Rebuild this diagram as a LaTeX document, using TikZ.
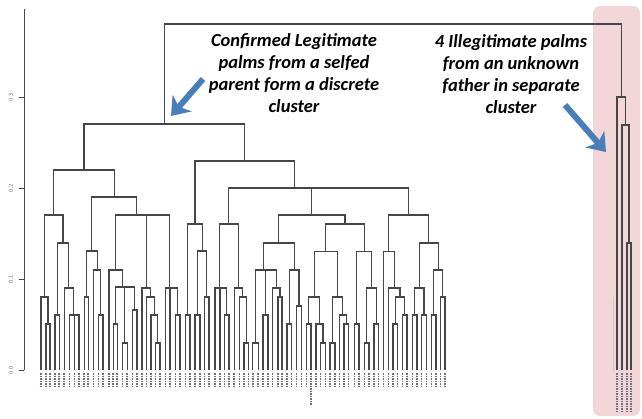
\documentclass[tikz,border=0pt]{standalone}
\usepackage{fontspec}
\setmainfont{Carlito}
\usetikzlibrary{arrows.meta}
\definecolor{clusterpink}{RGB}{242,214,216}
\definecolor{arrowblue}{RGB}{74,126,187}
\definecolor{treegray}{RGB}{70,70,70}
\definecolor{labelgray}{RGB}{110,108,128}
\tikzset{
  link/.style={treegray,line width=1.15pt},
  callout/.style={align=center,font=\fontsize{18.5}{21.8}\selectfont\bfseries\itshape},
  pointer/.style={arrowblue,line width=6pt,-{Stealth[length=17pt,width=25pt,inset=5pt]}},
  ticklabel/.style={black!55,rotate=90,font=\sffamily\fontsize{6}{7}\selectfont},
  leaflabel/.style={labelgray,line width=1.8pt,dash pattern=on 1.6pt off 0.9pt}
}
\begin{document}
\begin{tikzpicture}[x=1pt,y=-1pt]
  \useasboundingbox (0,0) rectangle (642,418);
  % shaded separate cluster
  \fill[clusterpink,rounded corners=7pt] (593,6) rectangle (640,416);
  % height axis
  \draw[treegray,line width=0.9pt] (24,370) -- (24,9);
  \foreach \yy/\lab [count=\i] in {370/0.0,279/0.1,188/0.2,97/0.3} {
    \draw[treegray,line width=0.9pt] (18.5,\yy) -- (24,\yy);
    \node[ticklabel] (tick\i) at (11,\yy) {\lab};
  }
  % leaf labels
  \foreach \x in {41,46,50,55,59.3,64.3,69.5,74.5,79,84.3,88.3,93.5,98.5,103,109,113.3,117.3,122.5,127.3,132.5,
    137,142,146.5,151,155.5,160,165.5,170,175.5,180,185.5,190,195,200,204.5,209,215,220,224.5,229,
    234.3,239.5,244,248.5,252.7,258.3,263,268,272.5,278,282,287,291.5,296.5,301.5,306.5,316,320.5,325.5,
    330,335,339.5,344,348.5,354.5,359,364.5,369,374,378.5,383.5,388.5,393,397.5,402.5,407,412.5,417,421.5,
    426.5,431.5,436,440.5,445}
    \draw[leaflabel] (\x,373) -- (\x,386);
  \draw[leaflabel] (311,373) -- (311,405);
  \foreach \x in {617,622,627,631}
    \draw[leaflabel] (\x,373) -- (\x,411);
  \draw[gray!40,line width=0.4pt] (613,297) -- (613,372);
  % merges: left x / left bottom / right x / right bottom / height
  \foreach \xa/\ya/\xb/\yb/\h in {
    46/370/50/370/324, 41/370/48/324/297, 55/370/59.3/370/315, 74.5/370/79/370/315,
    69.5/370/76.75/315/315, 64.3/370/73.13/315/288, 57.15/315/68.71/288/243, 44.5/297/62.93/243/215,
    84.3/370/88.3/370/297, 98.5/370/103/370/315, 93.5/370/100.75/315/270, 86.3/297/97.13/270/251,
    113.3/370/117.3/370/324, 122.5/370/127.3/370/343, 132.5/370/137/370/310, 124.9/343/134.75/310/287,
    115.3/324/129.83/287/287, 109/370/122.56/287/270,
    155.5/370/160/370/343, 151/370/157.75/343/315, 146.5/370/154.38/315/297, 142/370/150.44/297/288,
    175.5/370/180/370/315, 170/370/177.75/315/288, 165.5/370/173.88/288/288,
    146.22/288/169.69/288/215, 115.78/270/157.95/215/215, 91.71/251/136.87/215/197, 53.72/215/114.29/197/170,
    185.5/370/190/370/315, 195/370/200/370/315, 204.5/370/209/370/297, 197.5/315/206.75/297/251,
    187.75/315/202.13/251/224,
    224.5/370/229/370/315, 220/370/226.75/315/288, 215/370/223.38/288/288, 244/370/248.5/370/343,
    239.5/370/246.25/343/297, 234.3/370/242.88/297/288, 219.19/288/238.59/288/224,
    252.7/370/258.3/370/343, 263/370/268/370/315, 278/370/282/370/297, 272.5/370/280/297/288,
    265.5/315/276.25/288/270, 255.5/343/270.88/270/270, 287/370/291.5/370/324, 296.5/370/301.5/370/306,
    289.25/324/299/306/270, 263.19/270/294.13/270/243,
    306.5/370/311/370/324, 320.5/370/325.5/370/343, 316/370/323/343/324, 308.75/324/319.5/324/297,
    330/370/335/370/343, 344/370/348.5/370/324, 339.5/370/346.25/324/315, 332.5/343/342.88/315/297,
    314.13/297/337.69/297/251.7, 354.5/370/359/370/324, 364.5/370/369/370/343, 374/370/378.5/370/324,
    366.75/343/376.25/324/288, 356.75/324/371.5/288/251.7, 325.9/251.7/364.13/251.7/224,
    278.66/243/345.01/224/215,
    393/370/397.5/370/324, 402.5/370/407/370/315, 395.25/324/404.75/315/297, 388.5/370/400/297/288,
    383.5/370/394.25/288/251.7, 412.5/370/417/370/315, 421.5/370/426.5/370/315, 414.75/315/424/315/288,
    431.5/370/436/370/315, 440.5/370/445/370/297, 433.75/315/442.75/297/270, 419.38/288/438.25/270/243,
    388.88/251.7/428.81/243/215, 311.84/215/408.84/215/188, 228.89/224/360.34/188/188,
    194.94/224/294.6/188/161, 84/170/244.77/161/124,
    627/370/631/370/243, 622/370/629/243/125, 617/370/625.5/125/97,
    164.39/124/621.25/97/24}
    \draw[link] (\xa,\ya) |- (\xb,\h) -- (\xb,\yb);
  % callouts
  \node[callout] (legit) at (294,73) {Confirmed Legitimate\\palms from a selfed\\parent form a discrete\\cluster};
  \node[callout] (illegit) at (511,74) {4 Illegitimate palms\\from an unknown\\father in separate\\cluster};
  \coordinate (legittail) at (203,79);
  \coordinate (legittip) at (171,116);
  \coordinate (illegittail) at (565,105);
  \coordinate (illegittip) at (606,152);
  \draw[pointer] (legittail) -- (legittip);
  \draw[pointer] (illegittail) -- (illegittip);
\end{tikzpicture}
\end{document}
